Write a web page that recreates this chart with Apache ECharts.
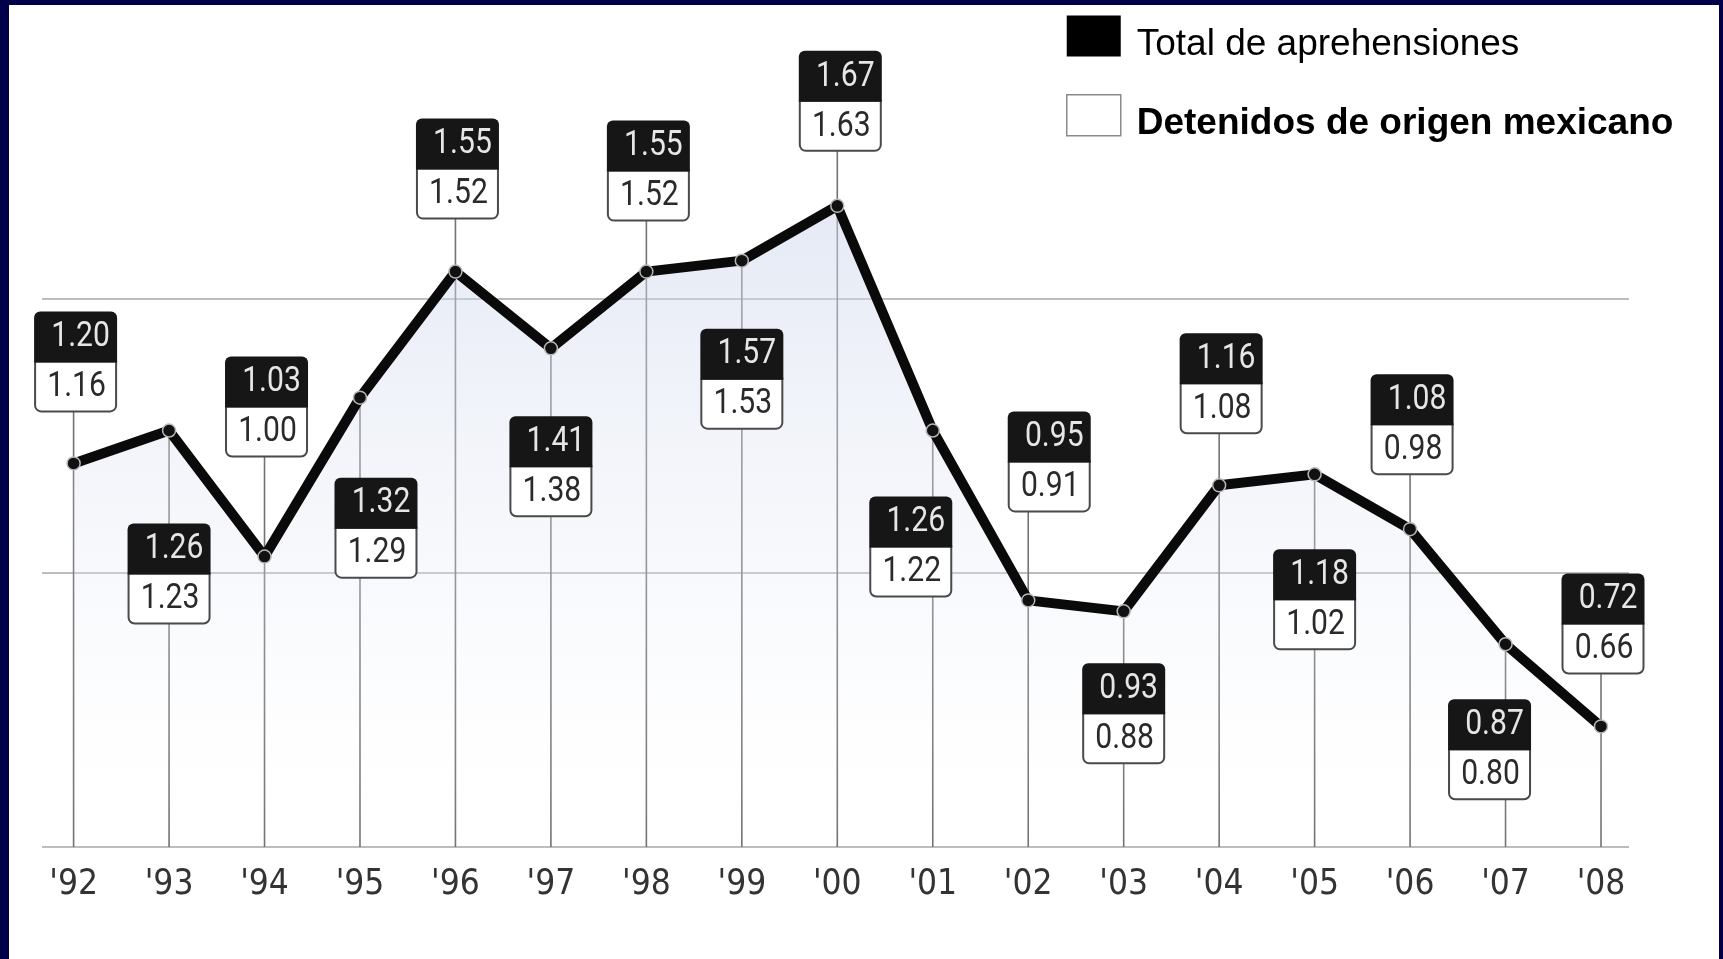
<!DOCTYPE html>
<html>
<head>
<meta charset="utf-8">
<title>Aprehensiones</title>
<script src="https://cdn.jsdelivr.net/npm/echarts@6/dist/echarts.min.js"></script>
<style>
  html, body { margin: 0; padding: 0; background: #00004a; width: 1723px; height: 959px; overflow: hidden; }
  #chart { position: absolute; left: 9px; top: 5px; width: 1710px; height: 954px; background: #fff; }
</style>
</head>
<body>
<div id="chart"></div>
<script>
  // datos (millones de aprehensiones)
  var years = ["'92", "'93", "'94", "'95", "'96", "'97", "'98", "'99", "'00",
               "'01", "'02", "'03", "'04", "'05", "'06", "'07", "'08"]
  var totalAprehensiones = [1.20, 1.26, 1.03, 1.32, 1.55, 1.41, 1.55, 1.57, 1.67,
                            1.26, 0.95, 0.93, 1.16, 1.18, 1.08, 0.87, 0.72]
  var origenMexicano = [1.16, 1.23, 1.00, 1.29, 1.52, 1.38, 1.52, 1.53, 1.63,
                        1.22, 0.91, 0.88, 1.08, 1.02, 0.98, 0.80, 0.66]

  // colocacion de las etiquetas: distancia en px sobre (+) o bajo (-) el punto, y desplazamiento horizontal
  var labelGap = [52, -93, 100, -80, 53, -68, 51, -68, 55, -66, 89, -52, 52, -75, 55, -55, 53]
  var labelShift = [2, 0, 2, 16, 2, 0, 2, 0, 3, -22, 21, 0, 2, 0, 2, -16, 2]

  var BOX_W = 81
  var HALF_H = 50
  var AXIS_MIN = 0.5

  var points = years.map(function (y, i) {
    return [i, totalAprehensiones[i], origenMexicano[i]]
  })

  function boxTop(i, py) {
    var gap = labelGap[i]
    return gap > 0 ? py - gap - HALF_H * 2 : py - gap
  }

  function renderGuide(params, api) {
    var i = params.dataIndex
    var p = api.coord([i, api.value(1)])
    var base = api.coord([i, AXIS_MIN])
    var topY = labelGap[i] > 0 ? p[1] - labelGap[i] : p[1]
    return {
      type: 'line',
      shape: {x1: p[0], y1: base[1], x2: p[0], y2: topY},
      style: {stroke: '#737373', lineWidth: 1.6}
    }
  }

  function renderBox(params, api) {
    var i = params.dataIndex
    var p = api.coord([i, api.value(1)])
    var cx = p[0] + labelShift[i]
    var top = boxTop(i, p[1])
    var left = cx - BOX_W / 2
    return {
      type: 'group',
      children: [
        {
          type: 'rect',
          shape: {x: left, y: top + HALF_H, width: BOX_W, height: HALF_H, r: [0, 0, 6, 6]},
          style: {fill: '#fff', stroke: '#4a4a4a', lineWidth: 2}
        },
        {
          type: 'rect',
          shape: {x: left - 1, y: top, width: BOX_W + 2, height: HALF_H + 1, r: [6, 6, 0, 0]},
          style: {fill: '#161616'}
        },
        {
          type: 'text',
          x: cx + 5, y: top + HALF_H / 2 + 1,
          scaleX: 0.86,
          style: {
            text: api.value(1).toFixed(2),
            fill: '#e6e6e6',
            font: '35px Roboto',
            align: 'center',
            verticalAlign: 'middle'
          }
        },
        {
          type: 'text',
          x: cx + 1, y: top + HALF_H * 1.5 + 1,
          scaleX: 0.86,
          style: {
            text: api.value(2).toFixed(2),
            fill: '#2a2a2a',
            font: '35px Roboto',
            align: 'center',
            verticalAlign: 'middle'
          }
        }
      ]
    }
  }

  var chart = echarts.init(document.getElementById('chart'))
  chart.setOption({
    animation: false,
    backgroundColor: '#fff',
    legend: {
      orient: 'vertical',
      left: 1052,
      top: 5.5,
      itemWidth: 54,
      itemHeight: 41,
      itemGap: 30.5,
      selectedMode: false,
      formatter: function (name) {
        return name.indexOf('Detenidos') === 0 ? '{b|' + name + '}' : '{t|' + name + '}'
      },
      textStyle: {
        fontFamily: 'Liberation Sans',
        fontSize: 37,
        color: '#000',
        rich: {
          t: {fontFamily: 'Liberation Sans', fontSize: 37, color: '#000', padding: [18, 0, 0, 11]},
          b: {fontFamily: 'Liberation Sans', fontSize: 37, color: '#000', fontWeight: 'bold', padding: [17, 0, 0, 11]}
        }
      },
      data: [
        {name: 'Total de aprehensiones', icon: 'rect', itemStyle: {color: '#000', borderWidth: 0}},
        {
          name: 'Detenidos de origen mexicano', icon: 'rect',
          itemStyle: {color: '#fff', borderColor: '#8a8a8a', borderWidth: 1.5}
        }
      ]
    },
    grid: [
      {left: 64.6, right: 118, top: 20, bottom: 112},
      {left: 33, right: 90, top: 20, bottom: 112}
    ],
    xAxis: [
      {
        type: 'category',
        gridIndex: 0,
        data: years,
        boundaryGap: false,
        axisLine: {show: false},
        axisTick: {show: false},
        splitLine: {show: false},
        axisLabel: {
          margin: 20,
          color: '#333',
          fontSize: 35,
          fontFamily: "'Liberation Sans Narrow', 'DejaVu Sans Condensed', Roboto, sans-serif"
        }
      },
      {type: 'value', gridIndex: 1, min: 0, max: 1, show: false}
    ],
    yAxis: [
      {type: 'value', gridIndex: 0, min: AXIS_MIN, max: 2.0, interval: 0.5, show: false},
      {
        type: 'value',
        gridIndex: 1,
        min: AXIS_MIN,
        max: 2.0,
        interval: 0.5,
        axisLine: {show: false},
        axisTick: {show: false},
        axisLabel: {show: false},
        splitLine: {
          show: true,
          lineStyle: {color: ['#bdbdbd', '#bdbdbd', '#bdbdbd', 'rgba(0,0,0,0)'], width: 2}
        }
      }
    ],
    series: [
      {
        name: 'guias',
        type: 'custom',
        xAxisIndex: 0,
        yAxisIndex: 0,
        z: 1,
        silent: true,
        renderItem: renderGuide,
        encode: {x: 0, y: 1},
        data: points
      },
      {
        name: 'Total de aprehensiones',
        type: 'line',
        xAxisIndex: 0,
        yAxisIndex: 0,
        z: 2,
        data: totalAprehensiones,
        symbol: 'circle',
        symbolSize: 13,
        itemStyle: {color: '#111', borderColor: '#b8b8b8', borderWidth: 1.5},
        lineStyle: {color: '#0a0a0a', width: 10},
        areaStyle: {
          origin: 'start',
          color: {
            type: 'linear', x: 0, y: 0, x2: 0, y2: 1,
            colorStops: [
              {offset: 0, color: 'rgba(205,214,235,0.75)'},
              {offset: 0.6, color: 'rgba(230,235,246,0.4)'},
              {offset: 1, color: 'rgba(255,255,255,0)'}
            ]
          }
        }
      },
      {
        name: 'Detenidos de origen mexicano',
        type: 'custom',
        xAxisIndex: 0,
        yAxisIndex: 0,
        z: 4,
        renderItem: renderBox,
        encode: {x: 0, y: 1},
        data: points
      }
    ]
  })
</script>
</body>
</html>
